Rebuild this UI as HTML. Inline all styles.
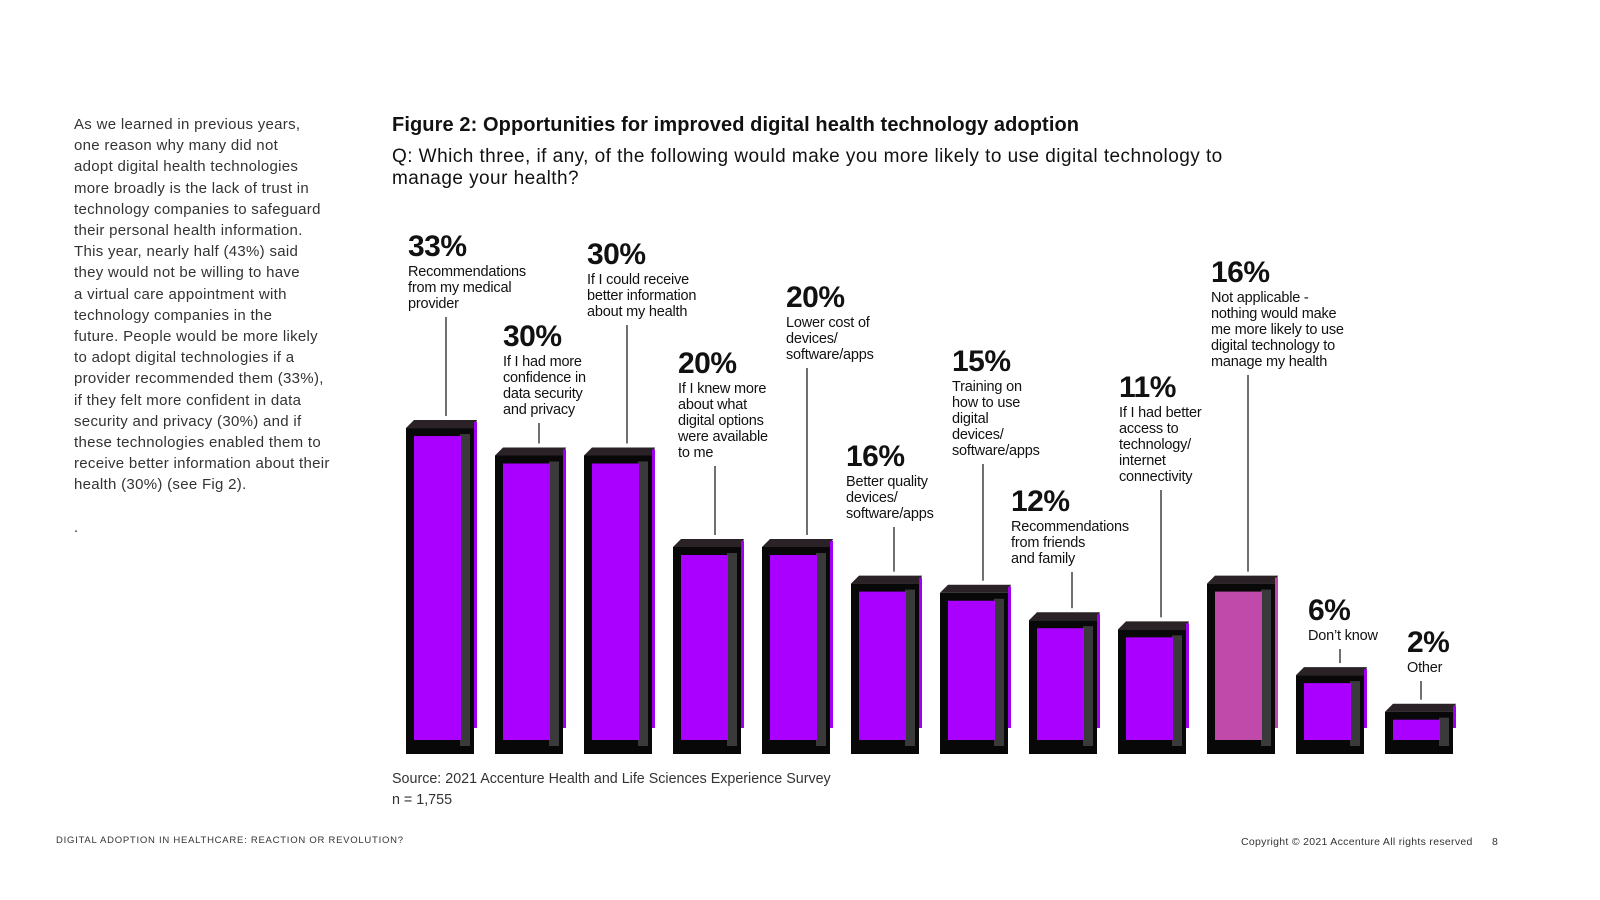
<!DOCTYPE html>
<html><head><meta charset="utf-8"><style>
body{margin:0;width:1600px;height:900px;background:#fff;font-family:"Liberation Sans",sans-serif;position:relative;overflow:hidden;color:#111}
.abs{position:absolute}
#left{left:74px;top:114px;width:290px;font-size:15px;letter-spacing:0.3px;line-height:21.2px;color:#333;white-space:nowrap}
.pct{position:absolute;font-size:30px;font-weight:bold;letter-spacing:-0.5px;line-height:30px}
.desc{position:absolute;font-size:14.5px;line-height:16px;letter-spacing:-0.2px}
</style></head><body>
<div id="left" class="abs">As we learned in previous years,<br>one reason why many did not<br>adopt digital health technologies<br>more broadly is the lack of trust in<br>technology companies to safeguard<br>their personal health information.<br>This year, nearly half (43%) said<br>they would not be willing to have<br>a virtual care appointment with<br>technology companies in the<br>future. People would be more likely<br>to adopt digital technologies if a<br>provider recommended them (33%),<br>if they felt more confident in data<br>security and privacy (30%) and if<br>these technologies enabled them to<br>receive better information about their<br>health (30%) (see Fig 2).<br><br>.</div>
<div class="abs" style="left:392px;top:114px;font-size:20px;font-weight:bold;letter-spacing:0.1px">Figure 2: Opportunities for improved digital health technology adoption</div>
<div class="abs" style="left:392px;top:146px;font-size:19px;letter-spacing:0.45px;line-height:22px;width:950px">Q: Which three, if any, of the following would make you more likely to use digital technology to<br>manage your health?</div>
<svg id="chart" class="abs" style="left:0;top:0" width="1600" height="900"></svg>
<div id="labels"></div>
<div class="abs" style="left:392px;top:769px;font-size:14.3px;line-height:21px;color:#333">Source: 2021 Accenture Health and Life Sciences Experience Survey<br>n = 1,755</div>
<div class="abs" style="left:56px;top:835px;font-size:9.5px;letter-spacing:0.75px;color:#333">DIGITAL ADOPTION IN HEALTHCARE: REACTION OR REVOLUTION?</div>
<div class="abs" style="left:1241px;top:836px;font-size:10.5px;letter-spacing:0.3px;color:#333">Copyright © 2021 Accenture All rights reserved &nbsp;&nbsp;&nbsp;&nbsp; 8</div>
<script>
const categories=["Recommendations<br>from my medical<br>provider","If I had more<br>confidence in<br>data security<br>and privacy","If I could receive<br>better information<br>about my health","If I knew more<br>about what<br>digital options<br>were available<br>to me","Lower cost of<br>devices/<br>software/apps","Better quality<br>devices/<br>software/apps","Training on<br>how to use<br>digital<br>devices/<br>software/apps","Recommendations<br>from friends<br>and family","If I had better<br>access to<br>technology/<br>internet<br>connectivity","Not applicable -<br>nothing would make<br>me more likely to use<br>digital technology to<br>manage my health","Don’t know","Other"];
const values=[33,30,30,20,20,16,15,12,11,16,6,2];
const labelX=[408,503,587,678,786,846,952,1011,1119,1211,1308,1407];
const labelY=[232,322,240,349,283,442,347,487,373,258,596,628];
const lineX=[446,539,627,715,807,894,983,1072,1161,1248,1340,1421];
const svg=document.getElementById('chart');
const NS='http://www.w3.org/2000/svg';
const base=754;
function yScale(v){return base-(24+9.15*v);}
function xScale(i){return 406+i*89;}
const labels=document.getElementById('labels');
values.forEach((v,i)=>{
  const x=xScale(i),top=yScale(v),w=68;
  const g=document.createElementNS(NS,'g');
  
  
  svg.appendChild(g);
  const add=(t,a)=>{const e=document.createElementNS(NS,t);for(const k in a)e.setAttribute(k,a[k]);g.appendChild(e);return e;};
  add('polygon',{points:`${x},${top} ${x+8},${top-8} ${x+w+3},${top-8} ${x+w},${top}`,fill:'#2a2226'});
  add('rect',{x:x+w,y:top-6,width:3,height:Math.max(0,base-top-20),fill:i==9?'#c04aaa':'#a100f0'});
  add('rect',{x:x,y:top,width:w,height:base-top,fill:'#080808'});
  add('rect',{x:x+w-14,y:top+6,width:10,height:base-top-14,fill:'#3a3a3a'});
  add('rect',{x:x+8,y:top+8,width:w-21,height:base-top-22,fill:i==9?'#c04aaa':'#aa00ff'});
  const ly=labelY[i]+33+categories[i].split('<br>').length*16+4;
  add('line',{x1:lineX[i],x2:lineX[i],y1:ly,y2:top-12,stroke:'#222','stroke-width':1.3});
  const p=document.createElement('div');p.className='pct';p.style.left=labelX[i]+'px';p.style.top=labelY[i]+'px';p.textContent=v+'%';
  
  
  labels.appendChild(p);
  const d=document.createElement('div');d.className='desc';d.style.left=labelX[i]+'px';d.style.top=(labelY[i]+32)+'px';d.innerHTML=categories[i];
  
  
  labels.appendChild(d);
});
</script>
</body></html>
